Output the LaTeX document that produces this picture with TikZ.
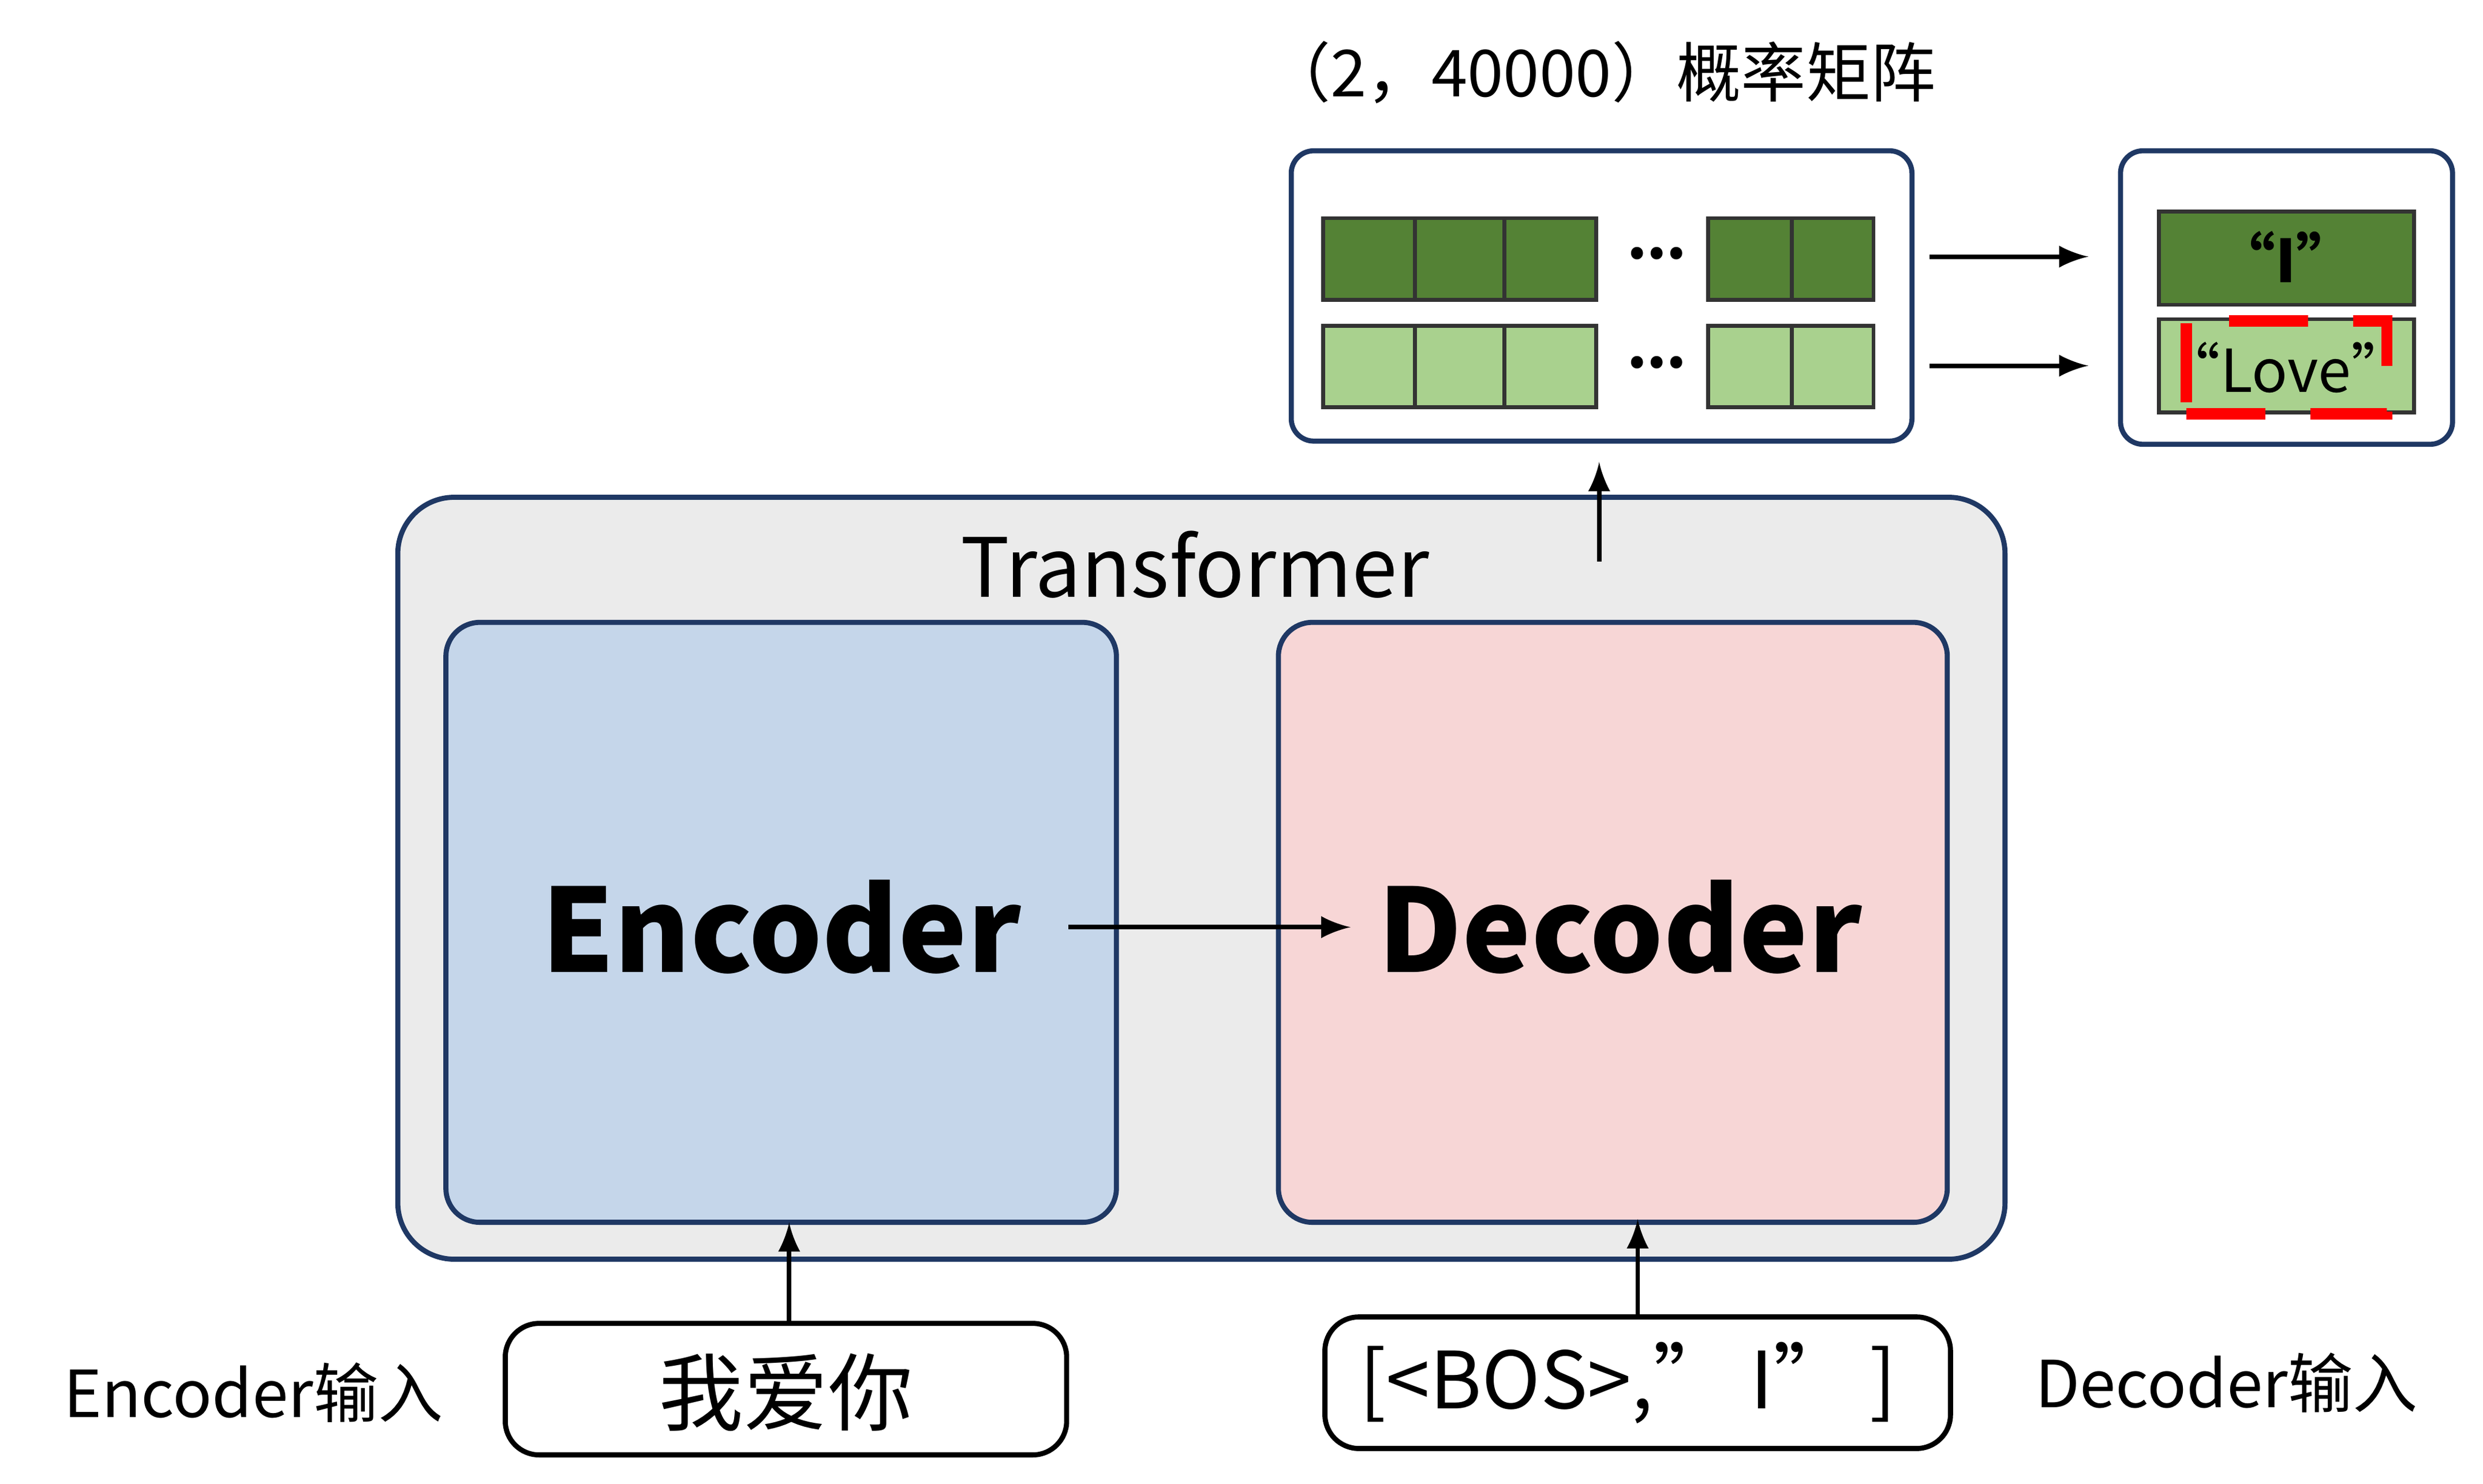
\documentclass[tikz,border=0pt]{standalone}
\usepackage{fontspec}
\setmainfont{Noto Sans CJK SC}
\usetikzlibrary{fit}
\definecolor{navy}{HTML}{1F3864}
\definecolor{dg}{HTML}{548235}
\definecolor{lg}{HTML}{A9D18E}
\begin{document}
\begin{tikzpicture}[x=0.01cm,y=-0.01cm,
  box/.style={draw=navy,line width=0.9pt,rounded corners=6pt,inner sep=0pt},
  ibox/.style={draw=black,line width=0.9pt,rounded corners=6pt,inner sep=0pt},
  cell/.style={draw=black!80,line width=0.7pt,inner sep=0pt},
  arr/.style={-latex,line width=0.8pt}]
\useasboundingbox (0,0) rectangle (1548,925);
\node[box,fill=black!8,rounded corners=10pt,fit={(248,310)(1250,785)}] (tr) {};
\node at (745,352) (trl) {\fontsize{14.5}{18}\selectfont Transformer};
\node[box,fill={rgb,255:red,197;green,214;blue,234},fit={(278,388)(696,762)}] (enc) {};
\node[box,fill={rgb,255:red,247;green,214;blue,214},fit={(797,388)(1214,762)}] (dec) {};
\node at (487,578) (encl) {\fontsize{20.5}{24}\selectfont\bfseries Encoder};
\node at (1010,578) (decl) {\fontsize{20.5}{24}\selectfont\bfseries Decoder};
\coordinate (a1) at (666,578); \coordinate (a2) at (842,578);
\draw[arr] (a1) -- (a2);
\node[ibox,fit={(315,825)(665,907)}] (in1) {};
\node at (490,868) (in1l) {\fontsize{15}{18}\selectfont 我爱你};
\node at (158,868) (el) {\fontsize{11.5}{14}\selectfont Encoder输入};
\node[ibox,fit={(826,821)(1216,903)}] (in2) {};
\node at (1015,862) (in2l) {\fontsize{14}{18}\selectfont [<BOS>,” I” ]};
\node at (1388,862) (dl) {\fontsize{11.5}{14}\selectfont Decoder输入};
\coordinate (e1) at (492,825); \coordinate (e2) at (492,762);
\draw[arr] (e1) -- (e2);
\coordinate (d1) at (1021,821); \coordinate (d2) at (1021,760);
\draw[arr] (d1) -- (d2);
\coordinate (o1) at (997,350); \coordinate (o2) at (997,288);
\draw[arr] (o1) -- (o2);
\node[box,rounded corners=4pt,fit={(805,94)(1192,275)}] (mat) {};
\node at (998,45) (matl) {\fontsize{11.5}{14}\selectfont （2，40000）概率矩阵};
\foreach \a/\b [count=\i] in {825/882,882/938,938/995,1065/1117,1117/1168}{
  \node[cell,fill=dg,fit={(\a,136)(\b,187)}] (d\i) {};
  \node[cell,fill=lg,fit={(\a,203)(\b,254)}] (l\i) {};
}
\node at (1033,158) (dots1) {\bfseries ...};
\node at (1033,226) (dots2) {\bfseries ...};
\coordinate (r1) at (1203,160); \coordinate (r2) at (1302,160);
\coordinate (r3) at (1203,228); \coordinate (r4) at (1302,228);
\draw[arr] (r1) -- (r2); \draw[arr] (r3) -- (r4);
\node[box,rounded corners=4pt,fit={(1322,94)(1529,277)}] (res) {};
\node[cell,fill=dg,fit={(1346,132)(1505,190)}] (ri) {};
\node[cell,fill=lg,fit={(1346,199)(1505,257)}] (rl) {};
\node at (1425,160) (ril) {\fontsize{10.5}{13}\selectfont\bfseries “I”};
\node at (1425,229) (rll) {\fontsize{10.5}{13}\selectfont “Love”};
\node[draw=red,dashed,dash pattern=on 14pt off 8pt,line width=2pt,inner sep=0pt,fit={(1363,200)(1488,258)}] (rd) {};
\end{tikzpicture}
\end{document}
